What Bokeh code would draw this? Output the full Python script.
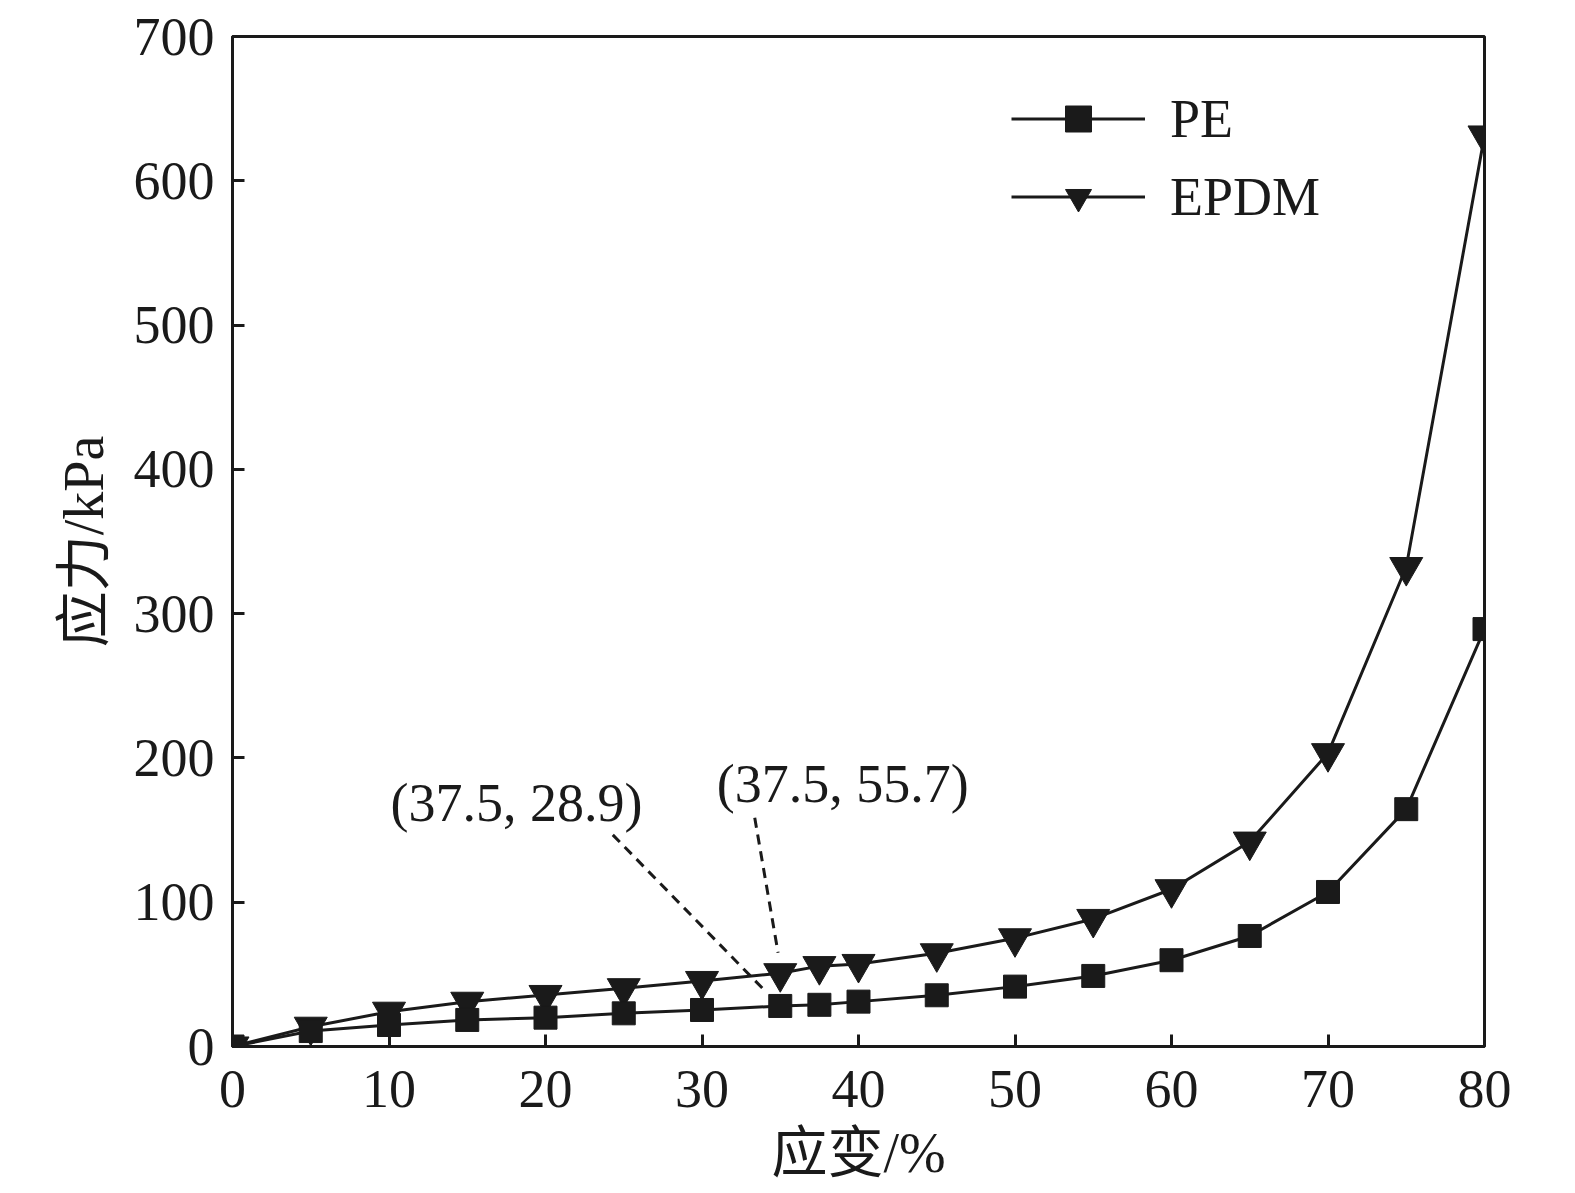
from bokeh.plotting import figure
from bokeh.models import Range1d, Legend, LegendItem, FixedTicker, ColumnDataSource
from bokeh.embed import file_html
from bokeh.resources import INLINE
from bokeh.core.properties import value

# ---- data ----
strain = [0, 5, 10, 15, 20, 25, 30, 35, 37.5, 40, 45, 50, 55, 60, 65, 70, 75, 80]
pe_stress = [0, 10.7, 14.9, 18.4, 20.0, 23.0, 25.3, 28.1, 28.9, 31.1, 35.5, 41.5,
             48.9, 59.8, 76.6, 107.1, 164.5, 289.3]
epdm_stress = [0, 13.7, 24.1, 31.0, 35.7, 40.4, 45.4, 50.8, 55.7, 57.2, 64.6, 75.0,
               88.4, 109.0, 142.0, 203.3, 332.3, 631.4]
series_names = ["PE", "EPDM"]
x_ticks = [0, 10, 20, 30, 40, 50, 60, 70, 80]
y_ticks = [0, 100, 200, 300, 400, 500, 600, 700]
x_label = "应变/%"
y_label = "应力/kPa"

ann_texts = ["(37.5, 28.9)", "(37.5, 55.7)"]
ann_text_x = [18.14, 39.0]
ann_text_y = [168.9, 182.0]
ann_line_x0 = [24.3, 33.37]
ann_line_y0 = [146.7, 158.5]
ann_line_x1 = [34.14, 34.86]
ann_line_y1 = [37.3, 65.0]

FONT = "Liberation Serif, Noto Sans CJK SC"
BLACK = "#1a1a1a"

p = figure(
    output_backend="svg", toolbar_location=None,
    frame_width=1252, frame_height=1010,
    min_border_left=232, min_border_top=36, min_border_right=50, min_border_bottom=145,
    x_range=Range1d(0, 80), y_range=Range1d(0, 700),
    background_fill_color="white", border_fill_color="white",
)
p.grid.visible = False
p.outline_line_color = BLACK
p.outline_line_width = 3

for ax, ticks in ((p.xaxis[0], x_ticks), (p.yaxis[0], y_ticks)):
    ax.ticker = FixedTicker(ticks=ticks)
    ax.axis_line_width = 3
    ax.axis_line_color = BLACK
    ax.major_tick_line_width = 3
    ax.major_tick_line_color = BLACK
    ax.major_tick_in = 12
    ax.major_tick_out = 0
    ax.minor_tick_line_color = None
    ax.major_label_text_font = FONT
    ax.major_label_text_font_size = "54px"
    ax.major_label_text_color = BLACK
    ax.axis_label_text_font = FONT
    ax.axis_label_text_font_size = "56px"
    ax.axis_label_text_font_style = "normal"
    ax.axis_label_text_color = BLACK

p.xaxis.axis_label = x_label
p.yaxis.axis_label = y_label
p.xaxis.major_label_standoff = 24
p.xaxis.axis_label_standoff = 12
p.yaxis.major_label_standoff = 18
p.yaxis.axis_label_standoff = 16

src = ColumnDataSource(dict(x=strain, pe=pe_stress, epdm=epdm_stress))

l_e = p.line("x", "epdm", source=src, line_color=BLACK, line_width=3)
m_e = p.scatter("x", "epdm", source=src, marker="inverted_triangle", size=33,
                fill_color=BLACK, line_color=BLACK, line_width=1)
l_p = p.line("x", "pe", source=src, line_color=BLACK, line_width=3)
m_p = p.scatter("x", "pe", source=src, marker="square", size=23,
                fill_color=BLACK, line_color=BLACK, line_width=1)

# annotations
p.segment(x0=ann_line_x0, y0=ann_line_y0, x1=ann_line_x1, y1=ann_line_y1,
          line_color=BLACK, line_width=3, line_dash="10 7")
p.text(x=ann_text_x, y=ann_text_y, text=ann_texts, text_font=value(FONT),
       text_font_size="54px", text_align="center", text_baseline="middle",
       text_color=BLACK)

legend = Legend(
    items=[LegendItem(label=series_names[0], renderers=[l_p, m_p]),
           LegendItem(label=series_names[1], renderers=[l_e, m_e])],
    location=(779, 817),
    glyph_width=134, glyph_height=65, spacing=13, label_standoff=25,
    label_height=65, padding=0, margin=0,
    label_text_font=FONT, label_text_font_size="54px", label_text_color=BLACK,
    border_line_alpha=0, background_fill_alpha=0,
)
p.add_layout(legend)

open("out.html", "w").write(file_html(p, INLINE))
